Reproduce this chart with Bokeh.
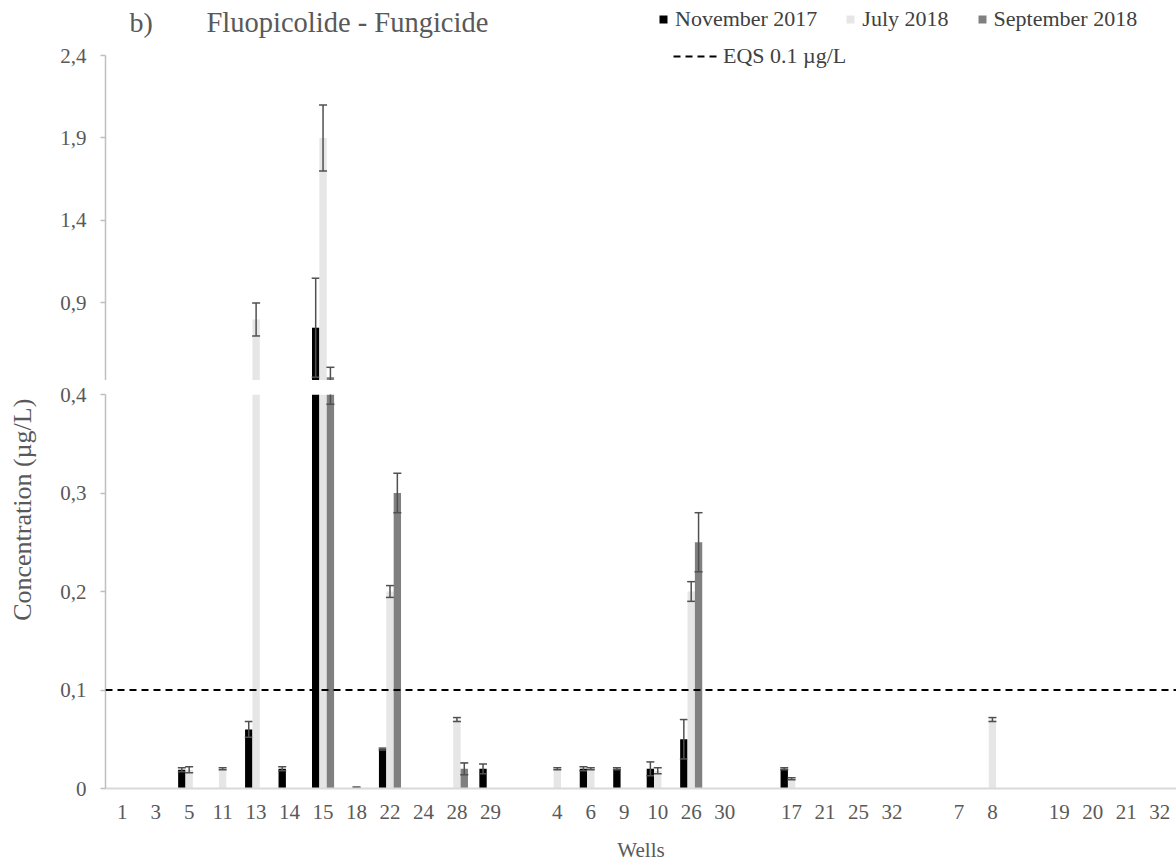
import math
from bokeh.plotting import figure
from bokeh.models import (FactorRange, Range1d, FixedTicker, CustomJSTickFormatter, Span,
                          Legend, LegendItem, Label, ColumnDataSource)
from bokeh.transform import dodge
from bokeh.layouts import column, row
from bokeh.embed import file_html
from bokeh.resources import INLINE

# ---------------- data ----------------
title_tag = "b)"
title_text = "Fluopicolide - Fungicide"
y_label = "Concentration  (µg/L)"
x_label = "Wells"

group_names = ["g1", "g2", "g3", "g4", "g5"]
group_wells = [
    ["1", "3", "5", "11", "13", "14", "15", "18", "22", "24", "28", "29"],
    ["4", "6", "9", "10", "26", "30"],
    ["17", "21", "25", "32"],
    ["7", "8"],
    ["19", "20", "21", "32"],
]

series_names = ["November 2017", "July 2018", "September 2018"]

nov_2017 = [None, None, 0.019, None, 0.06, 0.02, 0.75, None, 0.04, None, None, 0.02,
            None, 0.02, 0.02, 0.02, 0.05, None,
            0.02, None, None, None,
            None, None,
            None, None, None, None]
nov_2017_err = [None, None, 0.002, None, 0.008, 0.002, 0.3, None, 0.001, None, None, 0.005,
                None, 0.002, 0.001, 0.007, 0.02, None,
                0.001, None, None, None,
                None, None,
                None, None, None, None]

jul_2018 = [None, None, 0.019, 0.02, 0.8, None, 1.9, 0.001, 0.2, None, 0.07, None,
            0.02, 0.02, None, 0.018, 0.2, None,
            0.01, None, None, None,
            None, 0.07,
            None, None, None, None]
jul_2018_err = [None, None, 0.003, 0.001, 0.1, None, 0.2, 0.0005, 0.006, None, 0.002, None,
                0.001, 0.001, None, 0.003, 0.01, None,
                0.001, None, None, None,
                None, 0.002,
                None, None, None, None]

sep_2018 = [None, None, None, None, None, None, 0.45, None, 0.3, None, 0.02, None,
            None, None, None, None, 0.25, None,
            None, None, None, None,
            None, None,
            None, None, None, None]
sep_2018_err = [None, None, None, None, None, None, 0.06, None, 0.02, None, 0.006, None,
                None, None, None, None, 0.03, None,
                None, None, None, None,
                None, None,
                None, None, None, None]

eqs_value = 0.1
eqs_label = "EQS 0.1 µg/L"

lower_ticks = [0, 0.1, 0.2, 0.3, 0.4]
upper_ticks = [0.9, 1.4, 1.9, 2.4]
lower_range = (0, 0.4)
upper_axis_bounds = (0.43, 2.4)
upper_view = (0.43, 2.7334)   # extra headroom above 2.4 holds title and legend

# ---------------- styling ----------------
FONT = "Liberation Serif"
GRAY_TXT = "#595959"
colors = ["#000000", "#e6e6e6", "#808080"]
offsets = [-0.22, 0.0, 0.22]
BAR_W = 0.22
ERR_COLOR = "#505050"
LABEL_W = 45
PLOT_W = 1176 - LABEL_W

factors = [(g, w) for g, ws in zip(group_names, group_wells) for w in ws]
xr = FactorRange(factors=factors, group_padding=1.0, factor_padding=0.0, range_padding=0.0)

series_vals = [nov_2017, jul_2018, sep_2018]
series_errs = [nov_2017_err, jul_2018_err, sep_2018_err]

sources = []
for vals, errs in zip(series_vals, series_errs):
    xs, tops, los, his = [], [], [], []
    for f, v, e in zip(factors, vals, errs):
        if v is None:
            continue
        xs.append(f)
        tops.append(v)
        e = e or 0.0
        los.append(v - e)
        his.append(v + e)
    sources.append(ColumnDataSource(dict(x=xs, top=tops, lo=los, hi=his)))


def style_y(p, ticks, bounds=None):
    ax = p.yaxis[0]
    ax.ticker = FixedTicker(ticks=ticks)
    ax.formatter = CustomJSTickFormatter(code="return tick == 0 ? '0' : tick.toFixed(1).replace('.', ',');")
    if bounds is not None:
        ax.bounds = bounds
    ax.axis_line_color = "#bfbfbf"
    ax.axis_line_width = 1.5
    ax.major_tick_line_color = "#bfbfbf"
    ax.major_tick_line_width = 1.5
    ax.major_tick_out = 5
    ax.major_tick_in = 0
    ax.minor_tick_line_color = None
    ax.major_label_text_font = FONT
    ax.major_label_text_font_size = "21px"
    ax.major_label_text_color = GRAY_TXT
    ax.major_label_standoff = 14


def draw(p):
    rends = []
    for src, col, off in zip(sources, colors, offsets):
        xd = dodge("x", off, range=xr)
        r = p.vbar(x=xd, top="top", bottom=0, width=BAR_W, source=src,
                   fill_color=col, line_color=None)
        rends.append(r)
        p.segment(x0=xd, y0="lo", x1=xd, y1="hi", source=src,
                  line_color=ERR_COLOR, line_width=1.5)
        p.scatter(x=xd, y="hi", source=src, marker="dash", size=8,
                  line_color=ERR_COLOR, line_width=1.5)
        p.scatter(x=xd, y="lo", source=src, marker="dash", size=8,
                  line_color=ERR_COLOR, line_width=1.5)
    return rends


def base_fig(height, yr, top, bottom):
    p = figure(width=PLOT_W, height=height, x_range=xr, y_range=Range1d(*yr),
               output_backend="svg", toolbar_location=None,
               min_border_left=60, min_border_right=0,
               min_border_top=top, min_border_bottom=bottom)
    p.outline_line_color = None
    p.xgrid.visible = False
    p.ygrid.visible = False
    p.background_fill_color = "white"
    p.border_fill_color = "white"
    return p


# ---------------- upper panel ----------------
p_up = base_fig(380, upper_view, 0, 0)
p_up.xaxis.visible = False
style_y(p_up, upper_ticks, upper_axis_bounds)
rends = draw(p_up)

# legend proxy for the EQS line (its single point lies below this panel's view)
eqs_src = ColumnDataSource(dict(x=[factors[0]], y=[eqs_value]))
eqs_proxy = p_up.line(x="x", y="y", source=eqs_src, line_color="black",
                      line_dash="7 5", line_width=2)

leg1 = Legend(items=[LegendItem(label=n, renderers=[r]) for n, r in zip(series_names, rends)],
              orientation="horizontal", location=(553, 348),
              glyph_width=10, glyph_height=10, label_standoff=7, spacing=28,
              padding=0, margin=0, border_line_color=None, background_fill_alpha=0,
              label_text_font=FONT, label_text_font_size="22px", label_text_color="#404040")
leg2 = Legend(items=[LegendItem(label=eqs_label, renderers=[eqs_proxy])],
              orientation="horizontal", location=(568, 311),
              glyph_width=46, glyph_height=12, label_standoff=4,
              padding=0, margin=0, border_line_color=None, background_fill_alpha=0,
              label_text_font=FONT, label_text_font_size="22px", label_text_color="#404040")
p_up.add_layout(leg1)
p_up.add_layout(leg2)

p_up.add_layout(Label(x=24, y=358, x_units="screen", y_units="screen", text=title_tag,
                      text_font=FONT, text_font_size="28px", text_color=GRAY_TXT,
                      text_baseline="alphabetic", text_align="left"))
p_up.add_layout(Label(x=101, y=358, x_units="screen", y_units="screen", text=title_text,
                      text_font=FONT, text_font_size="28.5px", text_color=GRAY_TXT,
                      text_baseline="alphabetic", text_align="left"))

# ---------------- lower panel ----------------
p_lo = base_fig(484, lower_range, 14, 75)
style_y(p_lo, lower_ticks)
draw(p_lo)

p_lo.add_layout(Span(location=eqs_value, dimension="width", line_color="black",
                     line_dash="7 5", line_width=2))

xa = p_lo.xaxis[0]
xa.axis_line_color = "#d9d9d9"
xa.axis_line_width = 2
xa.major_tick_line_color = None
xa.minor_tick_line_color = None
xa.major_label_text_font = FONT
xa.major_label_text_font_size = "21px"
xa.major_label_text_color = GRAY_TXT
xa.major_label_standoff = 10
xa.group_text_color = None
xa.group_text_font_size = "1px"
xa.separator_line_color = None
xa.axis_label = x_label
xa.axis_label_text_font = FONT
xa.axis_label_text_font_size = "21px"
xa.axis_label_text_font_style = "normal"
xa.axis_label_text_color = GRAY_TXT
xa.axis_label_standoff = 16

# ---------------- y-axis title strip ----------------
p_lab = figure(width=LABEL_W, height=864, x_range=Range1d(0, 1), y_range=Range1d(0, 1),
               output_backend="svg", toolbar_location=None,
               x_axis_location=None, y_axis_location=None, min_border=0)
p_lab.outline_line_color = None
p_lab.xgrid.visible = False
p_lab.ygrid.visible = False
p_lab.add_layout(Label(x=22, y=358, x_units="screen", y_units="screen", text=y_label,
                       angle=math.pi / 2, text_font=FONT, text_font_size="26px",
                       text_color=GRAY_TXT, text_align="center", text_baseline="middle"))

layout = row(p_lab, column(p_up, p_lo, spacing=0), spacing=0)
open("out.html", "w").write(file_html(layout, INLINE))
